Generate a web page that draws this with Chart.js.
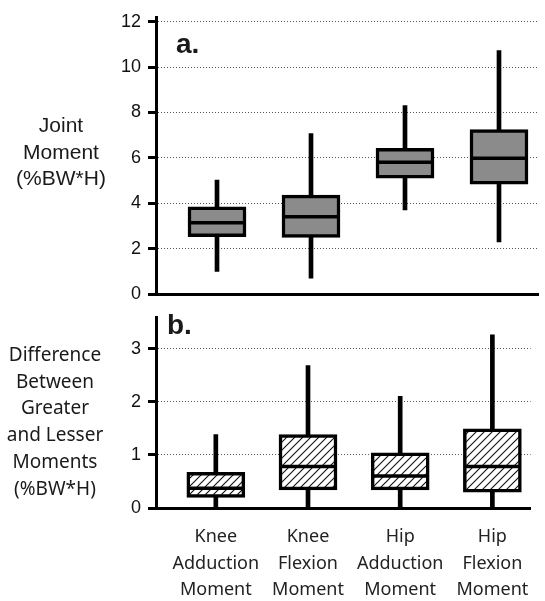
<!DOCTYPE html>
<html>
<head>
<meta charset="utf-8">
<script src="https://cdn.jsdelivr.net/npm/chart.js@4"></script>
<style>
	body { margin: 0; background: #fff; }
	#wrap { position: relative; width: 545px; height: 601px; overflow: hidden; }
	canvas { position: absolute; left: 0; }
	.side { position: absolute; left: 0; text-align: center; color: #1a1a1a; }
	#titleA { top: 112px; width: 122px; font: 21px/26.5px "Liberation Sans", Arial, sans-serif; }
	#titleB { top: 341px; width: 110px; font: 19px/26.7px "Noto Sans", sans-serif; }
	.panel { position: absolute; font: bold 28px/1 "Liberation Sans", Arial, sans-serif; color: #1a1a1a; }
</style>
</head>
<body>
<div id="wrap">
	<canvas id="topChart" width="545" height="315" style="top:0"></canvas>
	<canvas id="bottomChart" width="545" height="301" style="top:300px"></canvas>
	<div class="side" id="titleA">Joint<br>Moment<br>(%BW*H)</div>
	<div class="side" id="titleB">Difference<br>Between<br>Greater<br>and Lesser<br>Moments<br>(%BW*H)</div>
	<div class="panel" style="left:176px; top:30px">a.</div>
	<div class="panel" style="left:167px; top:311px">b.</div>
</div>
<script>
let categories = [
	['Knee', 'Adduction', 'Moment'],
	['Knee', 'Flexion', 'Moment'],
	['Hip', 'Adduction', 'Moment'],
	['Hip', 'Flexion', 'Moment']
];

// panel a: joint moment (%BW*H)
let momentMin = [1.0, 0.7, 3.7, 2.3];
let momentQ1 = [2.53, 2.49, 5.1, 4.84];
let momentMedian = [3.14, 3.4, 5.8, 5.98];
let momentQ3 = [3.84, 4.36, 6.42, 7.24];
let momentMax = [5.02, 7.07, 8.3, 10.73];
let momentTicks = [0, 2, 4, 6, 8, 10, 12];

// panel b: difference between greater and lesser moments
let diffMin = [0, 0, 0, 0];
let diffQ1 = [0.2, 0.34, 0.34, 0.3];
let diffMedian = [0.37, 0.78, 0.6, 0.78];
let diffQ3 = [0.67, 1.38, 1.04, 1.49];
let diffMax = [1.38, 2.68, 2.1, 3.26];
let diffTicks = [0, 1, 2, 3];

document.addEventListener('DOMContentLoaded', main);

function main() {
	makeChart('topChart', momentMin, momentQ1, momentMedian, momentQ3, momentMax,
		momentTicks, 12.17, '#8b8b8b', false);
	makeChart('bottomChart', diffMin, diffQ1, diffMedian, diffQ3, diffMax,
		diffTicks, 3.58, hatch(), true);
}

function hatch() {
	let c = document.createElement('canvas');
	c.width = 8;
	c.height = 8;
	let g = c.getContext('2d');
	g.fillStyle = '#fff';
	g.fillRect(0, 0, 8, 8);
	g.strokeStyle = '#111';
	g.lineWidth = 1.1;
	g.beginPath();
	g.moveTo(0, 8); g.lineTo(8, 0);
	g.moveTo(-1, 1); g.lineTo(1, -1);
	g.moveTo(7, 9); g.lineTo(9, 7);
	g.stroke();
	return g.createPattern(c, 'repeat');
}

function makeChart(id, mins, q1s, meds, q3s, maxs, tickVals, yMax, fill, showLabels) {
	let ctx = document.getElementById(id).getContext('2d');
	return new Chart(ctx, {
		type: 'bar',
		data: {
			datasets: [
				{
					// whiskers
					data: categories.map((_, i) => ({x: i, y: [mins[i], maxs[i]]})),
					backgroundColor: '#000',
					barThickness: 4,
					grouped: false,
					order: 3
				},
				{
					// boxes
					data: categories.map((_, i) => ({x: i, y: [q1s[i], q3s[i]]})),
					backgroundColor: fill,
					borderColor: '#000',
					borderWidth: 3.5,
					borderSkipped: false,
					barThickness: 58,
					grouped: false,
					order: 2
				},
				{
					// medians
					type: 'line',
					data: categories.map((_, i) => ({x: i, y: meds[i]})),
					showLine: false,
					pointStyle: 'line',
					pointRadius: 28,
					pointBorderWidth: 3.5,
					pointBorderColor: '#000',
					order: 1
				}
			]
		},
		options: {
			responsive: false,
			animation: false,
			events: [],
			layout: {
				autoPadding: false,
				padding: {top: showLabels ? 16 : 15, right: 7, bottom: 0, left: 0}
			},
			plugins: {
				legend: {display: false},
				tooltip: {enabled: false}
			},
			scales: {
				x: {
					type: 'linear',
					offset: false,
					min: -0.649,
					max: 3.415,
					afterBuildTicks: s => {
						s.ticks = categories.map((_, i) => ({value: i}));
					},
					afterFit: s => {
						s.height = showLabels ? 93 : 21;
					},
					ticks: {
						display: showLabels,
						autoSkip: false,
						maxRotation: 0,
						padding: 16,
						color: '#222',
						font: {family: '"Noto Sans", sans-serif', size: 18, lineHeight: 1.47},
						callback: v => categories[v]
					},
					grid: {display: false, drawTicks: false},
					border: {display: true, color: '#000', width: 3}
				},
				y: {
					min: 0,
					max: yMax,
					afterBuildTicks: s => {
						s.ticks = tickVals.map(v => ({value: v}));
					},
					afterFit: s => {
						s.width = 156;
					},
					ticks: {
						padding: 7,
						color: '#111',
						font: {family: '"Liberation Sans", Arial, sans-serif', size: 18}
					},
					grid: {
						color: '#555',
						lineWidth: 1,
						tickLength: 8,
						tickWidth: 3,
						tickColor: '#000'
					},
					border: {display: true, color: '#000', width: 3, dash: [1, 2]}
				}
			}
		}
	});
}
</script>
</body>
</html>
